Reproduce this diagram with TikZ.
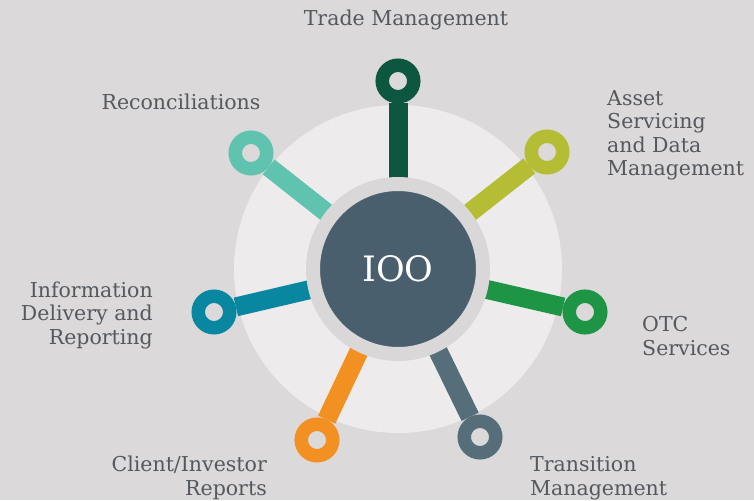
\documentclass[tikz,border=0pt]{standalone}
\usepackage{fontspec}
\setmainfont{DejaVu Serif}
\usetikzlibrary{positioning}

\definecolor{bggrey}{HTML}{DBD9DA}
\definecolor{discgrey}{HTML}{EDEBEC}
\definecolor{ringgrey}{HTML}{D9D7D8}
\definecolor{hubslate}{HTML}{4A5F6D}
\definecolor{textgrey}{HTML}{55585D}
\definecolor{tradegreen}{HTML}{0D5640}
\definecolor{assetolive}{HTML}{B5BD34}
\definecolor{otcgreen}{HTML}{1E9445}
\definecolor{transslate}{HTML}{556E7A}
\definecolor{clientorange}{HTML}{F39022}
\definecolor{infoteal}{HTML}{0A87A0}
\definecolor{reconmint}{HTML}{5FC3B0}

\begin{document}
\begin{tikzpicture}[x=1pt, y=-1pt,
    pin/.style={circle, draw, line width=13.5pt, minimum size=31.5pt, inner sep=0pt},
    stem/.style={line width=19pt},
    tag/.style={inner sep=0pt, text=textgrey, font=\fontsize{20.5}{23.5}\selectfont}]
        \fill[bggrey] (0,0) rectangle (754,500);
        \fill[discgrey] (398,269) circle (164);
        \coordinate (c) at (398,269);

        % pins
        \node[pin, draw=tradegreen] (trade) at (398,81) {};
        \node[pin, draw=assetolive] (asset) at (547,152) {};
        \node[pin, draw=otcgreen] (otc) at (585,312) {};
        \node[pin, draw=transslate] (trans) at (480,437) {};
        \node[pin, draw=clientorange] (client) at (317,440) {};
        \node[pin, draw=infoteal] (info) at (214,312) {};
        \node[pin, draw=reconmint] (recon) at (251,153) {};

        \draw[stem, tradegreen] (c) -- (trade);
        \draw[stem, assetolive] (c) -- (asset);
        \draw[stem, otcgreen] (c) -- (otc);
        \draw[stem, transslate] (c) -- (trans);
        \draw[stem, clientorange] (c) -- (client);
        \draw[stem, infoteal] (c) -- (info);
        \draw[stem, reconmint] (c) -- (recon);

        \node[circle, fill=hubslate, draw=ringgrey, line width=14pt, minimum size=170pt,
              text=white, font=\fontsize{35}{40}\selectfont] (hub) at (c) {IOO};

        % labels (base = last line)
        \node[tag, anchor=base] (tradetxt) at (406,26) {Trade Management};
        \node[tag, anchor=base west, align=left] (assettxt) at (607,175.5) {Asset\\Servicing\\and Data\\Management};
        \node[tag, anchor=base west, align=left] (otctxt) at (642,355) {OTC\\Services};
        \node[tag, anchor=base west, align=left] (transtxt) at (530,495) {Transition\\Management};
        \node[tag, anchor=base east, align=right] (clienttxt) at (267,495) {Client/Investor\\Reports};
        \node[tag, anchor=base east, align=right] (infotxt) at (153,344) {Information\\Delivery and\\Reporting};
        \node[tag, anchor=base] (recontxt) at (181,110) {Reconciliations};
      \end{tikzpicture}
\end{document}
